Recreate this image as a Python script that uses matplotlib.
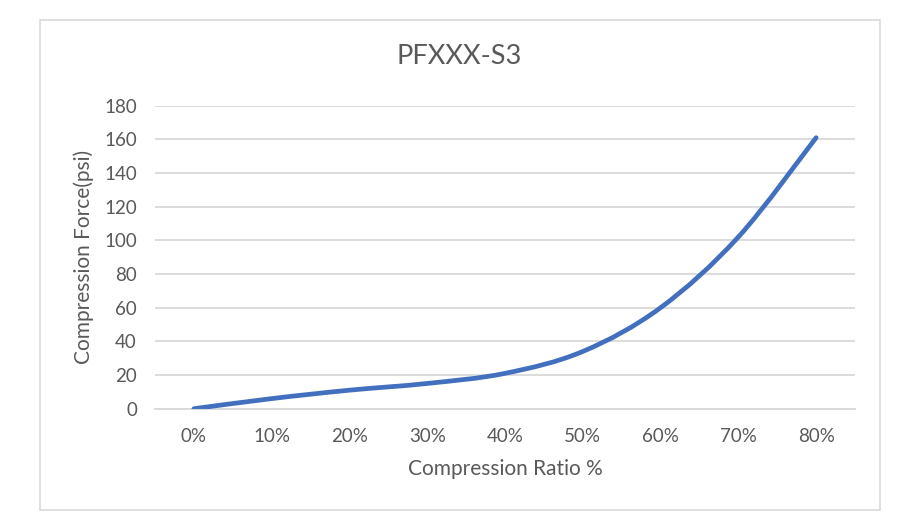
import numpy as np
import matplotlib
matplotlib.use("Agg")
import matplotlib.pyplot as plt
from matplotlib.path import Path
from matplotlib.patches import PathPatch, Rectangle

plt.rcParams['font.family'] = ['Lato', 'DejaVu Sans']

# data
ratio_labels = ['0%', '10%', '20%', '30%', '40%', '50%', '60%', '70%', '80%']
force_psi = [0, 6, 11, 15, 21, 34, 60, 102, 161]
y_ticks = [0, 20, 40, 60, 80, 100, 120, 140, 160, 180]

txt = '#595959'
grid = '#d9d9d9'
blue = '#4270bf'

fig = plt.figure(figsize=(9.19, 5.30), dpi=100)
# outer chart border like excel
fig.patches.append(Rectangle((40/919, 1-510/530), 840/919, 490/530,
                             transform=fig.transFigure, fill=False,
                             edgecolor=grid, linewidth=1.2))

ax = fig.add_axes([155/919, 1-408.7/530, 700/919, 303/530])

x = np.arange(len(force_psi))
y = np.array(force_psi, dtype=float)

# smooth line (catmull-rom -> bezier), same as excel "smoothed line"
verts = [(x[0], y[0])]
codes = [Path.MOVETO]
for i in range(len(x) - 1):
    p0 = np.array([x[max(i-1, 0)], y[max(i-1, 0)]])
    p1 = np.array([x[i], y[i]])
    p2 = np.array([x[i+1], y[i+1]])
    p3 = np.array([x[min(i+2, len(x)-1)], y[min(i+2, len(x)-1)]])
    c1 = p1 + (p2 - p0) / 6
    c2 = p2 - (p3 - p1) / 6
    verts += [tuple(c1), tuple(c2), tuple(p2)]
    codes += [Path.CURVE4] * 3
ax.add_patch(PathPatch(Path(verts, codes), fill=False, edgecolor=blue,
                       linewidth=3.4, capstyle='round', joinstyle='round', zorder=3))

ax.set_xlim(-0.5, len(x) - 0.5)
ax.set_ylim(0, 180)
ax.set_xticks(x)
ax.set_xticklabels(ratio_labels)
ax.set_yticks(y_ticks)
ax.tick_params(length=0, labelsize=13.5, colors=txt)
ax.tick_params(axis='x', pad=14)
ax.tick_params(axis='y', pad=13)
ax.yaxis.grid(True, color=grid, linewidth=1.3)
ax.set_axisbelow(True)
for s in ['top', 'right', 'left']:
    ax.spines[s].set_visible(False)
ax.spines['bottom'].set_color(grid)
ax.spines['bottom'].set_linewidth(1.3)

ax.set_xlabel('Compression Ratio %', fontsize=15, color=txt, labelpad=10)
ax.set_ylabel('Compression Force(psi)', fontsize=15, color=txt, labelpad=7)
fig.text(0.5, 1-57/530, 'PFXXX-S3', fontsize=19.5, color=txt, ha='center', va='center')

fig.savefig('out.png', dpi=100)
